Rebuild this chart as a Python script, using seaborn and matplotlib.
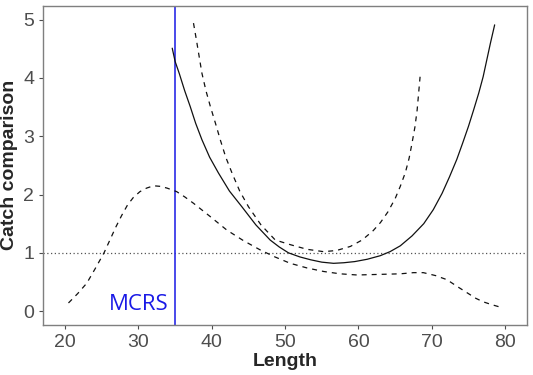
import pandas as pd
import matplotlib.pyplot as plt
import seaborn as sns

# fitted catch comparison curve (solid)
fit_len = [34.6, 35.0, 35.55, 36.3, 37.05, 37.8, 38.65, 39.7, 40.9, 42.4, 44.1, 46.0,
           47.95, 49.2, 50.45, 52.0, 53.5, 55.0, 56.6, 58.0, 59.5, 61.2, 62.95, 64.3,
           65.7, 67.3, 68.9, 70.2, 71.4, 72.4, 73.4, 74.2, 75.0, 75.7, 76.4, 77.0,
           77.5, 78.0, 78.57]
fit_val = [4.51, 4.28, 4.08, 3.78, 3.51, 3.22, 2.94, 2.64, 2.37, 2.06, 1.79, 1.48,
           1.22, 1.10, 1.0, 0.93, 0.88, 0.84, 0.82, 0.83, 0.85, 0.89, 0.95, 1.02,
           1.12, 1.29, 1.50, 1.74, 2.02, 2.30, 2.60, 2.88, 3.17, 3.45, 3.74, 4.02,
           4.31, 4.60, 4.91]

# upper confidence band (dashed)
up_len = [37.5, 37.9, 38.65, 39.2, 39.8, 40.5, 41.15, 41.9, 42.75, 43.8, 45.0, 46.7,
          48.65, 50.7, 53.0, 55.25, 57.0, 58.9, 60.5, 62.0, 63.0, 64.0, 65.0, 65.7,
          66.4, 66.9, 67.3, 67.7, 68.0, 68.4]
up_val = [4.94, 4.65, 4.08, 3.78, 3.51, 3.22, 2.94, 2.64, 2.37, 2.06, 1.79, 1.48,
          1.22, 1.14, 1.06, 1.02, 1.04, 1.11, 1.22, 1.38, 1.52, 1.70, 1.93, 2.14,
          2.38, 2.62, 2.88, 3.16, 3.45, 4.02]

# lower confidence band (dashed)
lo_len = [20.45, 21.7, 22.95, 24.1, 25.3, 26.1, 26.9, 27.7, 28.5, 29.3, 30.2, 31.1,
          32.05, 33.0, 33.9, 35.2, 36.3, 37.5, 39.8, 42.05, 44.3, 46.6, 48.6, 50.7,
          53.0, 55.25, 57.5, 59.8, 62.8, 65.7, 67.5, 68.85, 70.5, 72.05, 73.5, 75.0,
          76.0, 77.0, 78.2, 79.3]
lo_val = [0.14, 0.30, 0.48, 0.73, 1.0, 1.22, 1.44, 1.64, 1.82, 1.95, 2.05, 2.11,
          2.15, 2.14, 2.11, 2.05, 1.96, 1.85, 1.62, 1.39, 1.21, 1.05, 0.93, 0.82,
          0.74, 0.68, 0.64, 0.62, 0.63, 0.64, 0.66, 0.66, 0.61, 0.54, 0.42, 0.30,
          0.22, 0.16, 0.11, 0.07]

mcrs = 35
x_ticks = [20, 30, 40, 50, 60, 70, 80]
y_ticks = [0, 1, 2, 3, 4, 5]

sns.set_style("white")
plt.rcParams['font.family'] = ['Liberation Sans', 'DejaVu Sans']

fig, ax = plt.subplots(figsize=(5.33, 3.75), dpi=100)
fig.subplots_adjust(left=0.081, right=0.989, top=0.985, bottom=0.133)

ax.axhline(1, color="#555555", linestyle=(0, (1, 2)), linewidth=0.9)
ax.axvline(mcrs, color="#2a2ae6", linewidth=1.2)

sns.lineplot(x=fit_len, y=fit_val, ax=ax, color="#111111", linewidth=0.9, sort=False)
sns.lineplot(x=up_len, y=up_val, ax=ax, color="#111111", linewidth=0.9, sort=False,
             linestyle=(0, (4, 4)))
sns.lineplot(x=lo_len, y=lo_val, ax=ax, color="#111111", linewidth=0.9, sort=False,
             linestyle=(0, (4, 4)))

ax.text(30.0, 0.11, "MCRS", color="#1a1ae6", fontsize=16, ha="center", va="center",
        family=["Open Sans", "DejaVu Sans"])

ax.set_xlim(17.0, 83.0)
ax.set_ylim(-0.24, 5.24)
ax.set_xticks(x_ticks)
ax.set_yticks(y_ticks)
ax.tick_params(axis="both", labelsize=14, labelcolor="#4d4d4d", color="#4d4d4d",
               length=3, width=0.8, direction="out", bottom=True, left=True)
ax.set_xlabel("Length", fontsize=14, fontweight="bold", labelpad=1)
ax.set_ylabel("Catch comparison", fontsize=14, fontweight="bold", labelpad=4)
for s in ax.spines.values():
    s.set_color("#7f7f7f")
    s.set_linewidth(1.0)

plt.savefig("out.png", dpi=100)
